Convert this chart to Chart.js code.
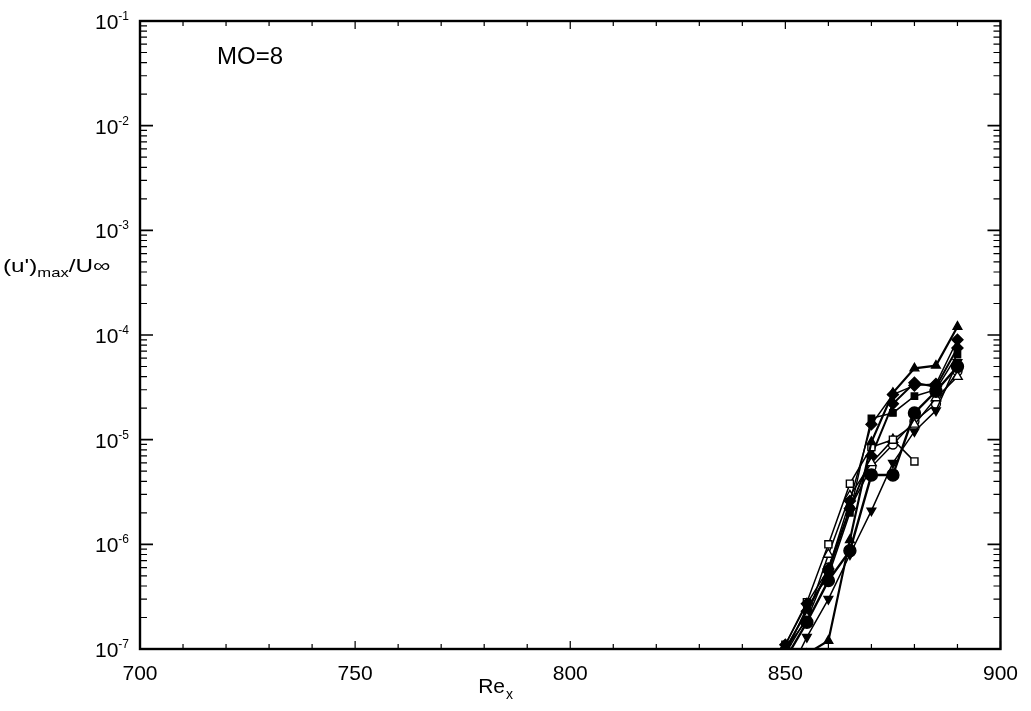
<!DOCTYPE html>
<html>
<head>
<meta charset="utf-8">
<title>MO=8</title>
<script src="https://cdn.jsdelivr.net/npm/chart.js@4.4.1/dist/chart.umd.min.js"></script>
<style>
    body { margin: 0; background: #fff; }
    #wrap { width: 1031px; height: 711px; }
</style>
</head>
<body>
<div id="wrap"><canvas id="c" width="1031" height="711"></canvas></div>
<script>
// Re_x stations
const reX = [850, 855, 860, 865, 870, 875, 880, 885, 890];

// (u')max / U-inf for each mode
const triUp     = [6e-8, 9e-8, 1.2e-7, 1.1e-6, 9.5e-6, 2.8e-5, 4.8e-5, 5.1e-5, 1.2e-4];
const diamondA  = [1.1e-7, 2.7e-7, 5.8e-7, 2.6e-6, 1.4e-5, 2.7e-5, 3.3e-5, 3.4e-5, 9e-5];
const circleF   = [8e-8, 1.8e-7, 4.5e-7, 8.7e-7, 4.6e-6, 4.6e-6, 1.8e-5, 2.9e-5, 5e-5];
const squareO   = [1.1e-7, 2.8e-7, 1e-6, 3.8e-6, 8.5e-6, 1e-5, 6.2e-6, null, null];
const triO      = [9e-8, 2e-7, 8e-7, 2.9e-6, 6e-6, 1e-5, 1.4e-5, 2.5e-5, 4e-5];
const triDown   = [5e-8, 1.3e-7, 3e-7, 8e-7, 2.1e-6, 6e-6, 1.2e-5, 1.9e-5, 5.5e-5];
const diamondB  = [1e-7, 2.3e-7, 5.5e-7, 2.2e-6, 7e-6, 2.2e-5, 3.5e-5, 3.2e-5, 7.5e-5];
const squareF   = [9e-8, 2.5e-7, 5e-7, 2e-6, 1.6e-5, 1.8e-5, 2.6e-5, 3e-5, 6.5e-5];
const circleO   = [1e-7, 1.9e-7, 6e-7, 2.2e-6, 5.5e-6, 9e-6, 1.5e-5, 2.2e-5, 4.5e-5];

const xTicks = [700, 750, 800, 850, 900];
const yExponents = [-7, -6, -5, -4, -3, -2, -1];

const FONT = '"Liberation Sans", Arial, sans-serif';

function series(values, style, filled, opts) {
    return Object.assign({
        data: reX.map((x, i) => ({ x: x, y: values[i] })),
        borderColor: '#000',
        borderWidth: 1.5,
        pointStyle: style,
        pointRadius: 5,
        pointBackgroundColor: filled ? '#000' : '#fff',
        pointBorderColor: '#000',
        pointBorderWidth: 1.4,
        tension: 0,
        spanGaps: false,
        clip: 0
    }, opts || {});
}

// box, inward ticks, log labels and axis texts
const frame = {
    id: 'frame',
    afterDraw(chart) {
        const ctx = chart.ctx;
        const a = chart.chartArea;
        const xs = chart.scales.x;
        const ys = chart.scales.y;
        ctx.save();
        ctx.strokeStyle = '#000';

        // minor/major ticks on x (bottom and top)
        ctx.lineWidth = 1.2;
        for (let v = 700; v <= 900; v += 10) {
            const px = xs.getPixelForValue(v);
            const len = v % 50 === 0 ? 8 : 5;
            ctx.beginPath();
            ctx.moveTo(px, a.bottom); ctx.lineTo(px, a.bottom - len);
            ctx.moveTo(px, a.top); ctx.lineTo(px, a.top + len);
            ctx.stroke();
        }

        // log ticks on y (left and right)
        yExponents.forEach(e => {
            for (let m = 1; m <= 9; m++) {
                if (e === -1 && m > 1) break;
                const py = ys.getPixelForValue(m * Math.pow(10, e));
                const len = m === 1 ? 13 : 7;
                ctx.lineWidth = m === 1 ? 1.6 : 1.2;
                ctx.beginPath();
                ctx.moveTo(a.left, py); ctx.lineTo(a.left + len, py);
                ctx.moveTo(a.right, py); ctx.lineTo(a.right - len, py);
                ctx.stroke();
            }
        });

        // frame
        ctx.lineWidth = 2.4;
        ctx.strokeRect(a.left, a.top, a.right - a.left, a.bottom - a.top);

        // y tick labels 10^e
        ctx.fillStyle = '#000';
        ctx.textBaseline = 'alphabetic';
        yExponents.forEach(e => {
            const py = ys.getPixelForValue(Math.pow(10, e));
            const sup = String(e);
            ctx.font = '12px ' + FONT;
            const sw = ctx.measureText(sup).width;
            ctx.textAlign = 'right';
            ctx.fillText(sup, a.left - 11, py - 1);
            ctx.font = '21px ' + FONT;
            ctx.fillText('10', a.left - 11 - sw, py + 8);
        });

        // y title (u')max/U∞, drawn a little wide like the scan
        const ty = ys.getPixelForValue(Math.pow(10, -3.4));
        ctx.save();
        ctx.translate(3, ty);
        ctx.scale(1.28, 1);
        let tx = 0;
        ctx.textAlign = 'left';
        ctx.font = '19px ' + FONT;
        ctx.fillText("(u')", tx, 0);
        tx += ctx.measureText("(u')").width;
        ctx.font = '13px ' + FONT;
        ctx.fillText('max', tx, 5);
        tx += ctx.measureText('max').width;
        ctx.font = '19px ' + FONT;
        ctx.fillText('/U\u221E', tx, 0);
        ctx.restore();

        // x title Re_x
        const rx = a.left + 0.393 * (a.right - a.left);
        ctx.textAlign = 'left';
        ctx.font = '21px ' + FONT;
        ctx.fillText('Re', rx, a.bottom + 44);
        const rw = ctx.measureText('Re').width;
        ctx.font = '14px ' + FONT;
        ctx.fillText('x', rx + rw + 1, a.bottom + 50);

        // annotation
        ctx.font = '24px ' + FONT;
        ctx.fillText('MO=8', a.left + 77, a.top + 43);

        ctx.restore();
    }
};

new Chart(document.getElementById('c').getContext('2d'), {
    type: 'line',
    data: {
        datasets: [
            series(triUp, 'triangle', true, { borderWidth: 2.2 }),
            series(diamondA, 'rectRot', true, { pointRadius: 5.5 }),
            series(circleF, 'circle', true, { borderWidth: 2.4, pointRadius: 6 }),
            series(squareO, 'rect', false),
            series(triO, 'triangle', false, { pointRadius: 5.5 }),
            series(triDown, 'triangle', true, { rotation: 180 }),
            series(diamondB, 'rectRot', true, { borderWidth: 2, pointRadius: 5.5 }),
            series(squareF, 'rect', true, { pointRadius: 4.5 }),
            series(circleO, 'circle', false, { pointRadius: 4.5 })
        ]
    },
    options: {
        responsive: false,
        animation: false,
        layout: { padding: { left: 0, top: 21, right: 21, bottom: 0 } },
        plugins: {
            legend: { display: false },
            tooltip: { enabled: false }
        },
        scales: {
            x: {
                type: 'linear',
                min: 700,
                max: 900,
                afterBuildTicks: s => { s.ticks = xTicks.map(v => ({ value: v })); },
                afterFit: s => { s.height = 62; },
                grid: { display: false, drawTicks: false },
                border: { display: false },
                ticks: {
                    color: '#000',
                    padding: 13,
                    font: { family: FONT, size: 21 }
                }
            },
            y: {
                type: 'logarithmic',
                min: 1e-7,
                max: 1e-1,
                afterBuildTicks: s => { s.ticks = yExponents.map(e => ({ value: Math.pow(10, e) })); },
                afterFit: s => { s.width = 140; },
                grid: { display: false, drawTicks: false },
                border: { display: false },
                ticks: { display: false }
            }
        }
    },
    plugins: [frame]
});
</script>
</body>
</html>
